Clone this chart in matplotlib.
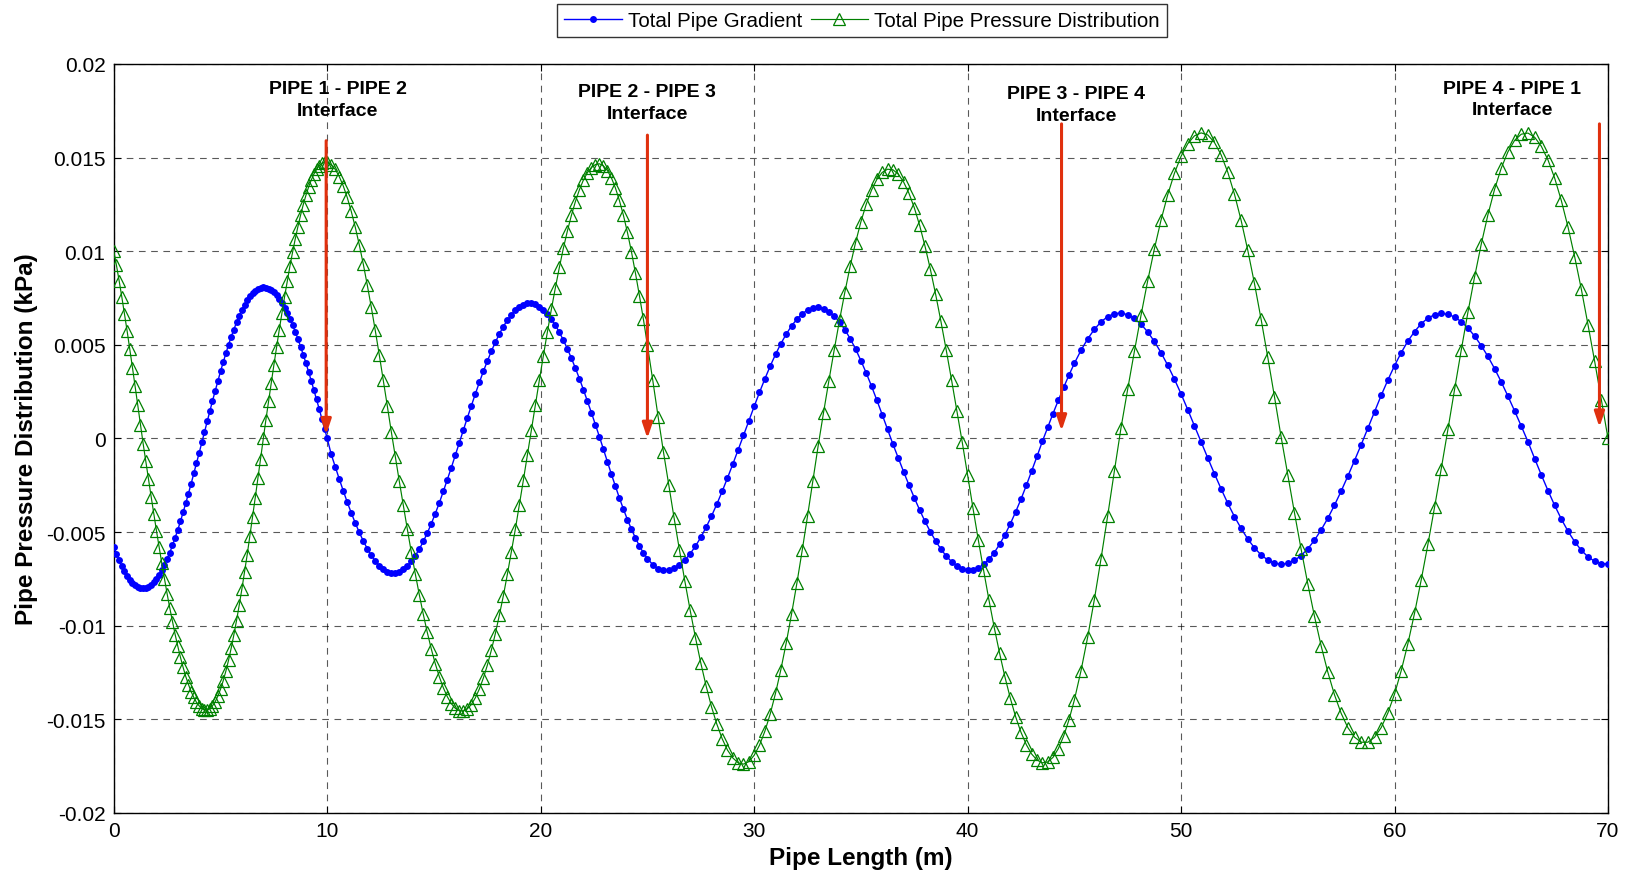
import numpy as np
import matplotlib
matplotlib.use("Agg")
import matplotlib.pyplot as plt

plt.rcParams['font.family'] = ['Liberation Sans', 'DejaVu Sans']

# ---------------- data ----------------
pipe_lengths = [10, 15, 20, 25]          # m, four pipes -> total 70 m
points_per_pipe = 80

# Total Pipe Gradient (units of 1e-5 kPa), one list per pipe section
blue_p1 = [-580, -617, -648, -682, -710, -734, -754, -771, -784, -793, -798, -800, -798, -791, -781, -767,
           -749, -728, -703, -675, -643, -609, -571, -530, -487, -442, -394, -345, -294, -241, -187, -132,
           -77, -21, 35, 91, 146, 201, 254, 307, 358, 407, 454, 500, 543, 582, 620, 654, 686, 713, 738, 759,
           776, 790, 799, 805,
           807, 805, 800, 792, 780, 764, 746, 724, 699, 671, 640, 607, 571, 532, 491, 448, 404, 357, 309, 259,
           209, 157, 105, 53, 0]
blue_p2 = [-85, -151, -216, -279, -340, -397, -451, -501, -547, -588, -624, -654, -679, -698, -711, -717,
           -717, -711, -699, -681, -656, -626, -591, -550, -505, -455, -401, -344, -283, -220, -156, -89, -22,
           44, 110, 174, 238, 299, 358, 413, 466, 514, 558, 598, 632, 661, 685, 703, 715, 721,
           721, 716, 704, 687, 665, 637, 605, 567, 525, 479, 429, 376, 320, 261, 200, 138, 74, 10,
           -57, -125, -191, -255, -318, -377, -433, -484, -531, -574, -611, -641]
blue_p3 = [-674, -695, -704,
           -703, -693, -675, -650, -616, -575, -528, -474, -415, -351, -283, -211, -137, -61,
           16, 94, 171, 246, 318, 386, 449, 506, 557, 601, 637, 666, 686, 697,
           700, 693, 678, 654, 622, 581, 533, 478, 416, 350, 279, 204, 127, 48,
           -30, -104, -177, -248, -316, -381, -442, -497, -547, -591, -628, -658, -680, -695, -702,
           -701, -691, -672, -645, -609, -565, -514, -456, -392, -324, -251, -174, -96, -16,
           59, 133, 204, 273, 339, 401]
blue_p4 = [471, 532, 583, 623, 651, 667,
           670, 661, 641, 610, 569, 518, 458, 391, 317, 238, 154, 68,
           -19, -104, -188, -269, -346, -417, -480, -537, -584, -622, -649, -666, -672,
           -667, -651, -625, -589, -543, -488, -426, -356, -281, -201, -118, -33,
           55, 144, 230, 312, 389, 458, 520, 571, 613, 643, 661, 668,
           663, 649, 624, 590, 547, 496, 438, 373, 302, 226, 147, 66,
           -17, -107, -194, -278, -357, -430, -495, -551, -597, -632, -656, -668, -670]

# Total Pipe Pressure Distribution (units of 1e-5 kPa)
green_p1 = [1001, 925, 843, 757, 667, 574, 478, 379, 279, 177, 74,
            -27, -122, -216, -310, -402, -493, -581, -667, -750, -830, -906, -978, -1047, -1110, -1169,
            -1223, -1272, -1314, -1352, -1383, -1409, -1428, -1442, -1449,
            -1449, -1443, -1428, -1406, -1376, -1339, -1294, -1243, -1185, -1120, -1049, -973, -891, -805,
            -714, -621, -521, -421, -318, -213, -107, 0,
            99, 198, 296, 392, 487, 579, 669, 756, 839, 919, 994, 1065, 1131, 1192, 1248, 1298, 1342, 1380,
            1412, 1437, 1457, 1469, 1475, 1474]
green_p2 = [1462, 1437, 1399, 1349, 1287, 1213, 1129, 1035, 932, 820, 702, 577, 447, 312, 175, 37,
            -97, -228, -357, -483, -606, -723, -834, -939, -1036, -1124, -1203, -1272, -1331, -1379, -1416,
            -1441, -1454,
            -1455, -1444, -1421, -1385, -1338, -1280, -1211, -1131, -1042, -944, -840, -726, -606, -484,
            -354, -223, -89,
            45, 179, 312, 442, 568, 690, 805, 914, 1016, 1108, 1191, 1265, 1328, 1380, 1419, 1447, 1463,
            1467, 1456, 1431, 1392, 1338, 1271, 1192, 1101, 998, 884, 763, 636, 499]
green_p3 = [311, 117,
            -71, -249, -425, -595, -760, -916, -1063, -1199, -1322, -1432, -1525, -1603, -1664, -1706, -1732,
            -1739, -1726, -1692, -1638, -1564, -1472, -1361, -1235, -1093, -939, -774, -598, -415, -228, -38,
            138, 308, 473, 632, 782, 921, 1046, 1157, 1251, 1327, 1384, 1421, 1438,
            1435, 1412, 1370, 1310, 1233, 1139, 1029, 906, 771, 625, 471, 311, 146,
            -21, -197, -371, -541, -705, -863, -1011, -1148, -1274, -1387, -1486, -1569, -1635, -1685,
            -1717, -1732,
            -1728, -1703, -1656, -1589, -1502, -1397]
green_p4 = [-1240, -1060, -860, -642, -412, -174,
            58, 264, 465, 659, 843, 1013, 1167, 1302, 1416, 1507, 1574, 1616,
            1632, 1621, 1581, 1515, 1422, 1305, 1165, 1005, 828, 636, 433, 223, 8,
            -196, -397, -592, -777, -950, -1108, -1248, -1369, -1468, -1544, -1595, -1622,
            -1622, -1596, -1544, -1466, -1365, -1240, -1096, -933, -755, -566, -367, -162,
            48, 262, 472, 674, 863, 1038, 1195, 1331, 1444, 1531, 1592, 1625,
            1631, 1609, 1561, 1488, 1391, 1271, 1130, 971, 798, 608, 412, 208, 0]

interface_labels = ['PIPE 1 - PIPE 2', 'PIPE 2 - PIPE 3', 'PIPE 3 - PIPE 4', 'PIPE 4 - PIPE 1']
label_x = [10.5, 25.0, 45.1, 65.5]
label_y = [0.0181, 0.01794, 0.01785, 0.01813]
arrow_x = [9.95, 25.0, 44.4, 69.6]
arrow_top = [0.0159, 0.0162, 0.0168, 0.0168]
arrow_tip = [0.0002, 0.0, 0.0004, 0.0006]

x_ticks = [0, 10, 20, 30, 40, 50, 60, 70]
y_ticks = [-0.02, -0.015, -0.01, -0.005, 0, 0.005, 0.01, 0.015, 0.02]

# ---------------- build series ----------------
x = [0.0]
start = 0.0
for L in pipe_lengths:
    x.extend(np.linspace(start, start + L, points_per_pipe + 1)[1:])
    start += L
x = np.array(x)
gradient = np.array(blue_p1 + blue_p2 + blue_p3 + blue_p4) * 1e-5
pressure = np.array(green_p1 + green_p2 + green_p3 + green_p4) * 1e-5

# ---------------- plot ----------------
fig = plt.figure(figsize=(16.3, 8.78), dpi=100)
ax = fig.add_axes([0.0698, 0.0729, 0.9167, 0.8531])

ax.plot(x, gradient, color='#0000ff', lw=1.0, marker='o', markersize=5.0,
        markeredgewidth=0, label='Total Pipe Gradient', zorder=3)
ax.plot(x, pressure, color='#008000', lw=0.85, marker='^', markersize=8.5,
        markerfacecolor='none', markeredgecolor='#008000', markeredgewidth=0.9,
        label='Total Pipe Pressure Distribution', zorder=4)

for lab, lx, ly, axx, at, tip in zip(interface_labels, label_x, label_y, arrow_x, arrow_top, arrow_tip):
    ax.text(lx, ly, lab + '\nInterface', ha='center', va='center', fontsize=14,
            fontweight='bold', linespacing=1.35, zorder=6)
    ax.annotate('', xy=(axx, tip), xytext=(axx, at),
                arrowprops=dict(arrowstyle='-|>,head_length=0.9,head_width=0.3', color='#e0300e',
                                lw=2.2, shrinkA=0, shrinkB=0), zorder=6)

ax.set_xlim(0, 70)
ax.set_ylim(-0.02, 0.02)
ax.set_xticks(x_ticks)
ax.set_yticks(y_ticks)
ax.set_yticklabels(['%g' % v for v in y_ticks])
ax.set_xticklabels(['%g' % v for v in x_ticks])
ax.tick_params(direction='in', top=True, right=True, length=5, width=0.8, labelsize=15, pad=6)
ax.grid(True, color='black', linestyle=(0, (6, 5)), linewidth=0.8, alpha=0.65)
for s in ax.spines.values():
    s.set_linewidth(1.0)

ax.set_xlabel('Pipe Length (m)', fontsize=17.5, fontweight='bold', labelpad=4)
ax.set_ylabel('Pipe Pressure Distribution (kPa)', fontsize=17.5, fontweight='bold', labelpad=6)

leg = fig.legend(loc='upper center', bbox_to_anchor=(0.529, 1.006), ncol=2, fontsize=14.8,
                 frameon=True, fancybox=False, edgecolor='black', numpoints=1,
                 handlelength=2.8, handletextpad=0.3, columnspacing=0.4, borderpad=0.35)
leg.get_frame().set_linewidth(1.0)

fig.savefig('out.png', dpi=100)
